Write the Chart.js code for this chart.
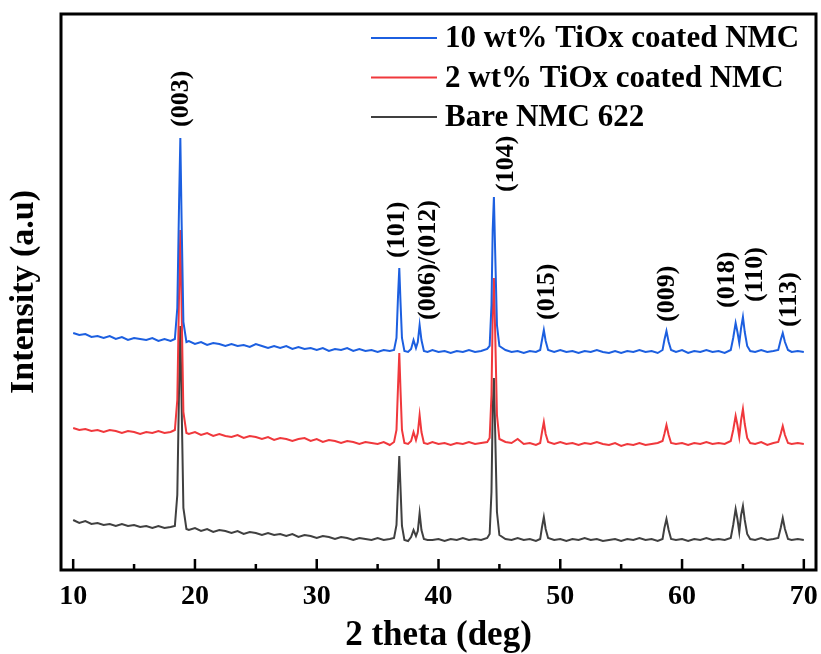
<!DOCTYPE html>
<html>
<head>
<meta charset="utf-8">
<title>XRD NMC 622</title>
<script src="https://cdn.jsdelivr.net/npm/chart.js@4.4.1/dist/chart.umd.min.js"></script>
<style>
  html, body { margin: 0; padding: 0; background: #fff; }
  canvas { display: block; }
</style>
</head>
<body>
<canvas id="xrd" width="821" height="654"></canvas>
<script>
// 2 theta (deg), shared by all three patterns
const twoTheta = [
  10.0, 10.5, 11.0, 11.5, 12.0, 12.5, 13.0, 13.5, 14.0, 14.5, 15.0, 15.5, 16.0, 16.5, 17.0, 17.5, 18.0,
  18.35, 18.55, 18.7, 18.8, 18.9, 19.05, 19.3,
  19.5, 20.0, 20.5, 21.0, 21.5, 22.0, 22.5, 23.0, 23.5, 24.0, 24.5, 25.0, 25.5, 26.0, 26.5, 27.0, 27.5,
  28.0, 28.5, 29.0, 29.5, 30.0, 30.5, 31.0, 31.5, 32.0, 32.5, 33.0, 33.5, 34.0, 34.5, 35.0, 35.5, 36.0,
  36.35, 36.55, 36.68, 36.78, 36.88, 37.0, 37.2, 37.5, 37.75, 37.95, 38.15, 38.3, 38.45, 38.6, 38.8, 39.1,
  39.5, 40.0, 40.5, 41.0, 41.5, 42.0, 42.5, 43.0, 43.5, 44.0,
  44.2, 44.35, 44.45, 44.55, 44.65, 44.8, 45.0,
  45.5, 46.0, 46.5, 47.0, 47.5, 48.0, 48.35,
  48.5, 48.65, 48.8, 49.0,
  49.5, 50.0, 50.5, 51.0, 51.5, 52.0, 52.5, 53.0, 53.5, 54.0, 54.5, 55.0, 55.5, 56.0, 56.5, 57.0, 57.5, 58.0, 58.4,
  58.55, 58.72, 58.9, 59.1,
  59.5, 60.0, 60.5, 61.0, 61.5, 62.0, 62.5, 63.0, 63.5, 64.0,
  64.2, 64.4, 64.55, 64.7, 64.85, 65.0, 65.15, 65.35, 65.6,
  66.0, 66.5, 67.0, 67.5, 67.9,
  68.1, 68.27, 68.45, 68.7,
  69.0, 69.5, 70.0
];

// intensities (a.u., already offset for stacking)
const tiox10 = [
  237, 235, 236, 233, 234, 232, 234, 231, 233, 230, 232, 231, 230, 232, 229, 231, 229,
  231, 262, 370, 432, 352, 248, 228,
  229, 226, 228, 225, 227, 226, 224, 226, 224, 225, 223, 226, 224, 222, 224, 222, 224,
  221, 223, 221, 222, 220, 222, 219, 221, 220, 222, 219, 221, 219, 220, 218, 220, 219,
  220, 232, 275, 302, 268, 232, 219, 218, 221, 230, 222, 228, 245, 230, 219, 218,
  220, 218, 219, 217, 219, 218, 220, 218, 219, 221,
  224, 265, 340, 373, 320, 245, 224,
  220, 218, 219, 217, 219, 218, 220,
  230, 240, 229, 220,
  218, 220, 218, 219, 217, 219, 218, 220, 218, 217, 219, 217, 219, 218, 220, 218, 219, 217, 220,
  230, 239, 228, 220,
  218, 220, 217, 219, 218, 220, 218, 219, 217, 220,
  232, 247, 238, 227, 242, 253, 238, 224, 219,
  218, 220, 218, 219, 220,
  230, 237, 228, 220,
  218, 219, 218
];

const tiox2 = [
  142, 140, 141, 139, 140, 138, 140, 139, 137, 139, 138, 136, 138, 137, 139, 137, 138,
  140, 170, 280, 340, 265, 158, 137,
  136, 138, 135, 137, 134, 136, 134, 133, 135, 132, 134, 133, 131, 133, 130, 132, 131,
  129, 131, 132, 129, 131, 128, 130, 129, 127, 129, 128, 126, 128, 127, 126, 128, 125,
  128, 140, 185, 217, 180, 140, 127, 126, 129, 138, 130, 137, 155, 138, 127, 126,
  128, 126, 127, 125, 127, 126, 128, 126, 127, 128,
  132, 175, 255, 292, 240, 155, 131,
  128, 127, 131, 126, 127, 125, 127,
  138, 148, 136, 128,
  126, 128, 126, 127, 125, 127, 126, 128, 126, 125, 127, 124, 126, 125, 127, 125, 126, 127, 129,
  136, 145, 135, 127,
  126, 127, 125, 127, 126, 128, 126, 127, 126, 129,
  140, 154, 145, 133, 150, 161, 146, 132, 127,
  126, 128, 125, 127, 128,
  136, 144, 135, 127,
  126, 127, 126
];

const bareNMC = [
  50, 47, 49, 46, 47, 45, 46, 44, 46, 44, 45, 43, 44, 42, 44, 42, 43,
  44, 75, 185, 244, 170, 62, 41,
  40, 42, 39, 41, 38, 40, 39, 37, 39, 36, 38, 37, 35, 37, 35, 36, 34,
  36, 33, 35, 34, 32, 34, 33, 31, 33, 32, 30, 32, 31, 30, 32, 30, 31,
  32, 45, 85, 114, 82, 44, 30, 29, 33, 40, 34, 39, 57, 40, 31, 30,
  30, 31, 29, 31, 30, 32, 30, 31, 30, 32,
  36, 78, 160, 192, 140, 58, 35,
  31, 30, 32, 30, 31, 29, 31,
  43, 53, 41, 32,
  30, 31, 29, 31, 30, 32, 30, 31, 29, 30, 31, 29, 31, 30, 32, 30, 31, 29, 31,
  42, 51, 40, 31,
  30, 31, 29, 31, 30, 32, 30, 31, 30, 32,
  45, 61, 51, 38, 55, 64, 50, 36, 31,
  30, 32, 30, 31, 32,
  42, 52, 41, 31,
  30, 31, 30
];

const seriesNames = ['10 wt% TiOx coated NMC', '2 wt% TiOx coated NMC', 'Bare NMC 622'];
const seriesColors = ['#1c5fe0', '#f0383c', '#404040'];

// peak indexing, anchor = bottom end of the rotated label (2theta, a.u.)
const peakNames  = ['(003)', '(101)', '(006)/(012)', '(104)', '(015)', '(009)', '(018)', '(110)', '(113)'];
const peakLabelX = [18.9, 36.65, 39.12, 45.6, 48.97, 58.82, 63.75, 66.05, 68.84];
const peakLabelY = [443, 312, 250, 378, 250, 248, 262, 268, 243];

const xTickMajor = [10, 20, 30, 40, 50, 60, 70];
const xTickMinor = [15, 25, 35, 45, 55, 65];

const serif = "'Liberation Serif', 'Times New Roman', serif";

function toPoints(ys) {
  return twoTheta.map((x, i) => ({ x: x, y: ys[i] }));
}

const whiteBg = {
  id: 'whiteBg',
  beforeDraw(chart) {
    const c = chart.ctx;
    c.save();
    c.fillStyle = '#fff';
    c.fillRect(0, 0, chart.width, chart.height);
    c.restore();
  }
};

// frame, inward ticks, peak labels and legend
const decorations = {
  id: 'decorations',
  afterDatasetsDraw(chart) {
    const c = chart.ctx;
    const a = chart.chartArea;
    const xs = chart.scales.x;
    const ys = chart.scales.y;
    c.save();

    c.strokeStyle = '#000';
    c.lineWidth = 2.5;
    xTickMajor.forEach(v => {
      const px = xs.getPixelForValue(v);
      c.beginPath(); c.moveTo(px, a.bottom); c.lineTo(px, a.bottom - 11); c.stroke();
    });
    xTickMinor.forEach(v => {
      const px = xs.getPixelForValue(v);
      c.beginPath(); c.moveTo(px, a.bottom); c.lineTo(px, a.bottom - 6); c.stroke();
    });

    c.lineWidth = 3;
    c.strokeRect(a.left, a.top, a.right - a.left, a.bottom - a.top);

    c.fillStyle = '#000';
    c.font = 'bold 26px ' + serif;
    c.textAlign = 'left';
    c.textBaseline = 'middle';
    peakNames.forEach((t, i) => {
      c.save();
      c.translate(xs.getPixelForValue(peakLabelX[i]), ys.getPixelForValue(peakLabelY[i]));
      c.rotate(-Math.PI / 2);
      c.fillText(t, 0, 0);
      c.restore();
    });

    // legend
    c.font = 'bold 31px ' + serif;
    chart.data.datasets.forEach((ds, i) => {
      const y = 38 + i * 39.5;
      c.strokeStyle = ds.borderColor;
      c.lineWidth = 2;
      c.beginPath(); c.moveTo(371, y); c.lineTo(437, y); c.stroke();
      c.fillStyle = '#000';
      c.fillText(ds.label, 445, y + 1);
    });

    c.restore();
  }
};

new Chart(document.getElementById('xrd'), {
  type: 'line',
  data: {
    datasets: [tiox10, tiox2, bareNMC].map((ys, i) => ({
      label: seriesNames[i],
      data: toPoints(ys),
      borderColor: seriesColors[i],
      borderWidth: 2,
      pointRadius: 0,
      tension: 0,
      fill: false
    }))
  },
  options: {
    responsive: false,
    animation: false,
    events: [],
    layout: { padding: { left: 0, right: 5, top: 14, bottom: 0 } },
    plugins: { legend: { display: false }, tooltip: { enabled: false } },
    scales: {
      x: {
        type: 'linear',
        min: 9,
        max: 71,
        afterFit(scale) { scale.paddingLeft = 0; scale.paddingRight = 0; },
        grid: { display: false, drawTicks: false },
        border: { display: false },
        ticks: {
          stepSize: 10,
          includeBounds: false,
          autoSkip: false,
          maxRotation: 0,
          padding: 13,
          color: '#000',
          font: { family: serif, size: 28, weight: 'bold', lineHeight: 1 }
        },
        title: {
          display: true,
          text: '2 theta (deg)',
          color: '#000',
          padding: { top: 1.5, bottom: 8.5 },
          font: { family: serif, size: 35, weight: 'bold', lineHeight: '20px' }
        }
      },
      y: {
        min: 0,
        max: 556,
        grid: { display: false, drawTicks: false },
        border: { display: false },
        ticks: { display: false },
        title: {
          display: true,
          text: 'Intensity (a.u)',
          color: '#000',
          padding: { top: 7.5, bottom: 19.5 },
          font: { family: serif, size: 34, weight: 'bold', lineHeight: 1 }
        }
      }
    }
  },
  plugins: [whiteBg, decorations]
});
</script>
</body>
</html>
